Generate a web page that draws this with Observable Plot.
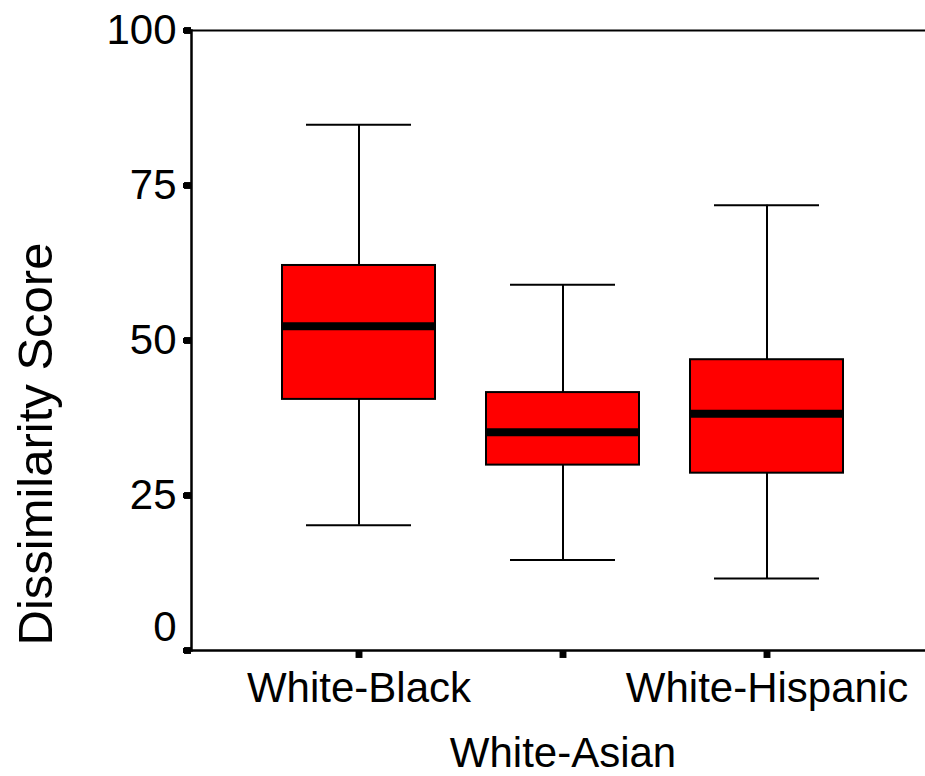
<!DOCTYPE html>
<html>
<head>
<meta charset="utf-8">
<script src="https://cdn.jsdelivr.net/npm/d3@7"></script>
<script src="https://cdn.jsdelivr.net/npm/@observablehq/plot@0.6"></script>
<style>
  html, body { margin: 0; padding: 0; background: #fff; }
</style>
</head>
<body>
<div id="chart"></div>
<script>
const categories = ["White-Black", "White-Asian", "White-Hispanic"];
const whiskerLow = [20.2, 14.6, 11.6];
const q1 = [40.5, 29.9, 28.6];
const median = [52.3, 35.2, 38.2];
const q3 = [62.1, 41.6, 46.9];
const whiskerHigh = [84.8, 59.0, 71.8];
const yTicks = [0, 25, 50, 75, 100];
const labelRow1 = ["White-Black", "White-Hispanic"];
const labelRow2 = ["White-Asian"];

const rows = categories.map((c, i) => ({
  cat: c, lo: whiskerLow[i], q1: q1[i], med: median[i], q3: q3[i], hi: whiskerHigh[i]
}));

const font = "Liberation Sans, Arial, Helvetica, sans-serif";

const chart = Plot.plot({
  width: 925,
  height: 776,
  marginLeft: 191,
  marginRight: 0,
  marginTop: 30,
  marginBottom: 126,
  style: { fontFamily: font, color: "#000", background: "#fff", overflow: "visible" },
  x: { type: "band", domain: categories, paddingInner: 0.25, paddingOuter: 0.424, align: 0.526 },
  y: { domain: [0, 100] },
  marks: [
    // whiskers
    Plot.ruleX(rows, { x: "cat", y1: "lo", y2: "hi", stroke: "#000", strokeWidth: 2 }),
    Plot.tickY(rows, { x: "cat", y: "lo", stroke: "#000", strokeWidth: 2, inset: 24 }),
    Plot.tickY(rows, { x: "cat", y: "hi", stroke: "#000", strokeWidth: 2, inset: 24 }),
    // boxes
    Plot.barY(rows, { x: "cat", y1: "q1", y2: "q3", fill: "#ff0000", stroke: "#000", strokeWidth: 2 }),
    // medians
    Plot.tickY(rows, { x: "cat", y: "med", stroke: "#000", strokeWidth: 8 }),
    // frame lines
    Plot.frame({ anchor: "top", stroke: "#000", strokeWidth: 2 }),
    Plot.frame({ anchor: "left", stroke: "#000", strokeWidth: 2.5 }),
    Plot.frame({ anchor: "bottom", stroke: "#000", strokeWidth: 2.5 }),
    // y axis labels
    Plot.axisY(yTicks, { tickSize: 8, strokeWidth: 5, tickPadding: 7, fontSize: 42, label: null,
      tickFormat: d => d === 0 ? "" : String(d) }),
    Plot.axisY([0], { tickSize: 0, tickPadding: 15, dy: -23, fontSize: 42, label: null }),
    // square tick marks
    Plot.dot(yTicks, { y: d => d, frameAnchor: "left", dx: -4, symbol: "square", r: 3.9, fill: "#000", stroke: "none" }),
    Plot.dot(categories, { x: d => d, frameAnchor: "bottom", dy: 4, symbol: "square", r: 3.9, fill: "#000", stroke: "none" }),
    // x axis labels
    Plot.axisX(labelRow1, { tickSize: 0, tickPadding: 22, fontSize: 42, label: null }),
    Plot.axisX(labelRow2, { tickSize: 0, tickPadding: 87, fontSize: 42, label: null }),
    // y title
    Plot.text(["Dissimilarity Score"], {
      frameAnchor: "bottom-left", rotate: -90, textAnchor: "start", lineAnchor: "middle",
      dx: -155, dy: -5, fontSize: 49, fill: "#000"
    })
  ]
});

document.getElementById("chart").appendChild(chart);
</script>
</body>
</html>
